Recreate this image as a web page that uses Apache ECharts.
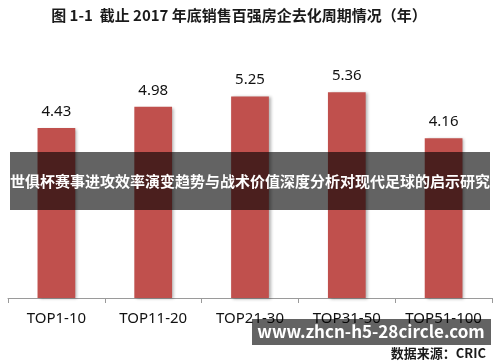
<!DOCTYPE html>
<html><head><meta charset="utf-8">
<script src="https://cdn.jsdelivr.net/npm/echarts@6/dist/echarts.min.js"></script>
<style>html,body{margin:0;padding:0;background:#fff}#c{width:500px;height:362px}</style>
</head><body><div id="c"></div>
<script>
const titleText = '图 1-1  截止 2017 年底销售百强房企去化周期情况（年）';
const categories = ['TOP1-10', 'TOP11-20', 'TOP21-30', 'TOP31-50', 'TOP51-100'];
const values = [4.43, 4.98, 5.25, 5.36, 4.16];
const bannerText = '世俱杯赛事进攻效率演变趋势与战术价值深度分析对现代足球的启示研究';
const watermarkText = 'www.zhcn-h5-28circle.com';
const sourceText = '数据来源：CRIC';

const chart = echarts.init(document.getElementById('c'));
const font = '"Noto Sans CJK SC","Noto Sans",sans-serif';
const latin = '"Noto Sans",sans-serif';
chart.setOption({
  animation: false,
  title: {
    text: titleText, left: 234, top: 3, textAlign: 'center',
    textStyle: { fontFamily: font, fontSize: 15, fontWeight: 'bold', color: '#1a1a1a' }
  },
  grid: { left: 8, right: 8, top: 67.6, bottom: 64 },
  xAxis: {
    type: 'category', data: categories,
    axisLine: { lineStyle: { color: '#9a9a9a', width: 1 } },
    axisTick: { show: true, length: 5, inside: false, lineStyle: { color: '#9a9a9a' } },
    axisLabel: { interval: 0, hideOverlap: false, fontFamily: latin, fontSize: 15, color: '#111', margin: 13 }
  },
  yAxis: { type: 'value', min: 0, max: 6, show: false, splitLine: { show: false } },
  series: [{
    type: 'bar', data: values, barWidth: '39%',
    itemStyle: { color: '#C0504D', shadowColor: 'rgba(0,0,0,0.3)', shadowBlur: 3, shadowOffsetX: 2, shadowOffsetY: 1 },
    label: { show: true, position: 'top', distance: 9, fontFamily: latin, fontSize: 15, color: '#111',
      formatter: p => p.value.toFixed(2) }
  }],
  graphic: [
    { type: 'rect', shape: { x: 10, y: 152, width: 480, height: 58 }, style: { fill: 'rgba(0,0,0,0.61)' }, z: 100 },
    { type: 'text', x: 250, y: 181, style: { text: bannerText, fill: '#fff', font: 'bold 15px ' + font, align: 'center', verticalAlign: 'middle' }, z: 101 },
    { type: 'rect', shape: { x: 252, y: 319, width: 239, height: 26 }, style: { fill: 'rgba(0,0,0,0.61)' }, z: 100 },
    { type: 'text', x: 371, y: 332, style: { text: watermarkText, fill: '#fff', font: 'bold 17px ' + font, align: 'center', verticalAlign: 'middle' }, z: 101 },
    { type: 'text', x: 486, y: 353, style: { text: sourceText, fill: '#1a1a1a', font: 'bold 13px ' + font, align: 'right', verticalAlign: 'middle' }, z: 101 }
  ]
});
</script></body></html>
